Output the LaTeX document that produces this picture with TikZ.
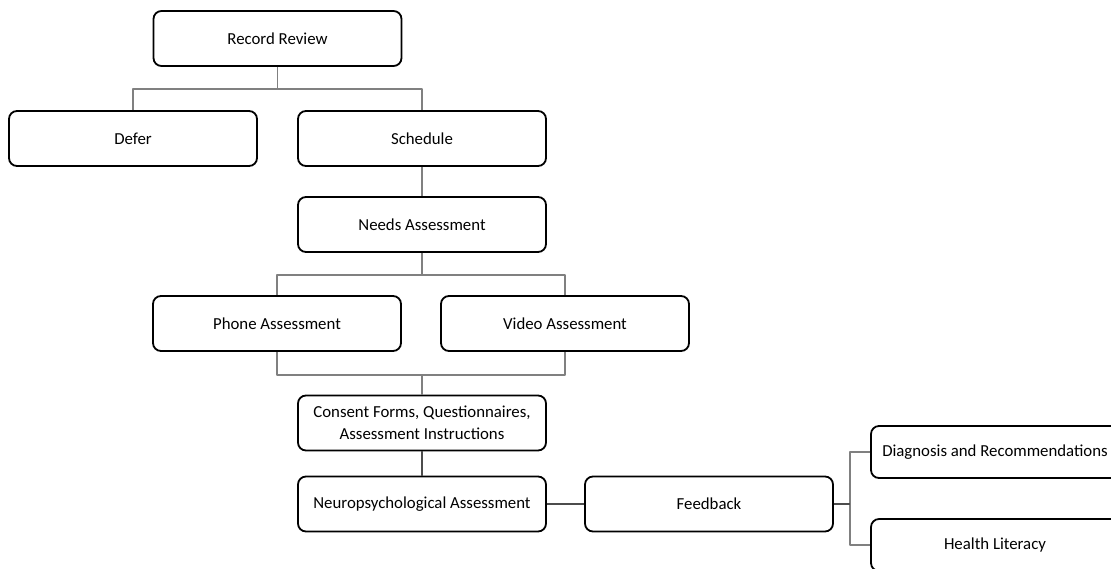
\documentclass[tikz,border=0pt]{standalone}
\usepackage{fontspec}
\setmainfont{Carlito}
\usetikzlibrary{calc}
\tikzset{>=latex}

\begin{document}
\begin{tikzpicture}[x=0.5pt, y=-0.5pt, line join = round,
    box/.style={draw=black, line width=0.9pt, rounded corners=4pt, minimum width=124pt, minimum height=27.5pt, align=center, inner sep=1pt, font=\fontsize{8.4}{11}\selectfont},
    link/.style={draw=black!50, line width=0.7pt}]
    \useasboundingbox (0,0) rectangle (1111,568);
    \begin{scope}
    \clip (0,0) rectangle (1111,568);
    \node[box] (rr) at (277.5,38.5) {Record Review};
    \node[box] (defer) at (133,138.5) {Defer};
    \node[box] (sched) at (422,138.5) {Schedule};
    \node[box] (needs) at (422,224.5) {Needs Assessment};
    \node[box] (phone) at (277,323.5) {Phone Assessment};
    \node[box] (video) at (565,323.5) {Video Assessment};
    \node[box] (consent) at (422,423) {Consent Forms, Questionnaires,\\Assessment Instructions};
    \node[box] (neuro) at (422,504) {Neuropsychological Assessment};
    \node[box] (fb) at (709,504) {Feedback};
    \node[box, minimum height=26pt] (dx) at (995,452) {Diagnosis and Recommendations};
    \node[box, minimum height=26pt] (hl) at (995,545) {Health Literacy};

    \draw[link] (rr.south) -- ++(0,22) -| (defer.north);
    \draw[link] (rr.south) -- ++(0,22) -| (sched.north);
    \draw[link] (sched.south) -- (needs.north);
    \draw[link] (needs.south) -- ++(0,22) -| (phone.north);
    \draw[link] (needs.south) -- ++(0,22) -| (video.north);
    \draw[link] (phone.south) -- ++(0,23) coordinate (j2) -| (video.south);
    \draw[link] (consent.north) -- (consent.north |- j2);
    \draw[link, draw=black!70] (consent.south) -- (neuro.north);
    \draw[link, draw=black!70] (neuro.east) -- (fb.west);
    \draw[link] (dx.west) -- ++(-20,0) coordinate (j3) |- (hl.west);
    \draw[link, draw=black!70] (fb.east) -- (fb.east -| j3);
    \end{scope}
\end{tikzpicture}
\end{document}
